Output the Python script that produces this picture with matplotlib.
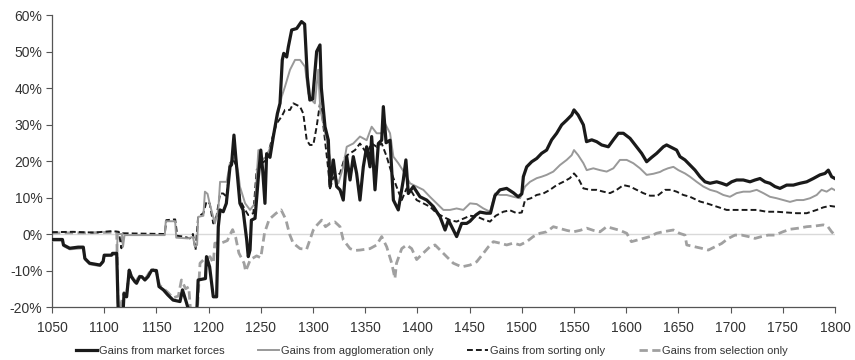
import numpy as np
from matplotlib import pyplot as plt
from matplotlib.ticker import FuncFormatter

plt.rcParams['font.family'] = ['Liberation Sans', 'DejaVu Sans']

# gains from market forces (black solid)
mf_years = [1050, 1060, 1061, 1067, 1075, 1080, 1081.5, 1086, 1096, 1099, 1100, 1107, 1108, 1112,
            1113.5, 1118, 1119, 1121.5, 1124, 1126, 1129.5, 1131, 1134, 1136, 1139, 1142, 1145.5,
            1150, 1152.5, 1156.7, 1161, 1166, 1172.6, 1175, 1179, 1182, 1188.6, 1190, 1197, 1198,
            1200, 1201, 1204.5, 1207.7, 1209.3, 1211, 1214, 1217, 1220.5, 1222, 1224.3, 1226, 1230,
            1233, 1236.5, 1238, 1239.7, 1241, 1244.5, 1247.7, 1250, 1251.8, 1254, 1255.6, 1258.8,
            1262, 1265.9, 1268.4, 1270.6, 1272, 1274.8, 1276.4, 1279.6, 1284.4, 1289, 1292, 1294.6,
            1297, 1299.7, 1303.5, 1306.7, 1308, 1311.5, 1314.7, 1316.3, 1319.5, 1322.7, 1325.9,
            1329, 1332.3, 1335.5, 1338.6, 1341.8, 1345, 1348.2, 1351.4, 1354.6, 1356.2, 1359.4,
            1362.6, 1365.8, 1367.4, 1370, 1373.8, 1377, 1381.7, 1386.5, 1389, 1391.3, 1396.1,
            1402.5, 1408.9, 1415.3, 1421.7, 1426.5, 1429.7, 1434.4, 1437.6, 1442.4, 1447.2, 1450.4,
            1456, 1460, 1466, 1470, 1474.3, 1479.1, 1485.5, 1491.9, 1496.5, 1500, 1501.5, 1504.7,
            1509.5, 1514.3, 1519, 1523.8, 1528.6, 1533.4, 1538.2, 1543, 1547.8, 1550, 1554, 1559,
            1562, 1567, 1571.7, 1576.5, 1582.9, 1587.7, 1592.5, 1597.3, 1603.7, 1610, 1614.8,
            1619.6, 1624.4, 1629.2, 1635.6, 1638.7, 1643.6, 1648.3, 1651.5, 1656.3, 1661.1, 1665.9,
            1670.7, 1675.5, 1680.3, 1686.7, 1691.4, 1696.2, 1701, 1705.8, 1712.2, 1718.6, 1723.4,
            1728.2, 1733, 1737.7, 1742.5, 1747.3, 1753.7, 1760.1, 1766.5, 1772.9, 1779.2, 1785.6,
            1790.4, 1793.6, 1796.8, 1800]
mf_vals = [-1.5, -1.5, -3, -3.9, -3.6, -3.6, -6.7, -8, -8.5, -7.5, -5.8, -5.8, -5.3, -5.3,
           -22, -22, -16.3, -17.2, -9.9, -11.7, -13.1, -13.5, -11.7, -11.7, -12.6, -11.7, -9.9,
           -10, -14.4, -15.3, -16.7, -18.1, -18.5, -15.3, -19, -22, -22, -12.6, -12.2, -6.2,
           -8, -9, -17.2, -17.2, 2, 6.6, 6.1, 8.4, 18.4, 19, 27.1, 21.2, 8.4,
           6.6, -1.6, -6.2, -4.4, 3.8, 4.3, 15.7, 23, 17.5, 8.4, 22, 21,
           26.7, 33, 35.8, 47.7, 49.5, 48.5, 51.3, 55.9, 56.3, 58.2, 57.5, 43,
           36.7, 37, 50, 51.8, 40, 29.4, 25.7, 13, 20.3, 13, 12.1,
           9.3, 21.2, 14.8, 21.2, 16.6, 9.3, 18.4, 23.9, 18.4, 26.7, 12.1,
           24.8, 25.7, 34.9, 25, 25.7, 9.3, 6.6, 14.8, 20.3, 11.1, 13,
           10.2, 9.3, 7.5, 4.7, 1.1, 3.8, 1.1, -0.7, 2.9, 2.9, 3.5,
           5.2, 6, 5.7, 5.7, 10.5, 12.1, 12.5, 11.3, 10.2, 11, 15.7, 18.4,
           19.8, 20.7, 22.1, 23, 25.8, 27.6, 29.9, 31.2, 32.6, 34, 32.6, 29.9,
           25.3, 25.8, 25.3, 24.4, 23.9, 25.8, 27.6, 27.6, 26.2, 23.9, 22.1,
           19.8, 21, 22.1, 23.9, 24.4, 23.7, 23, 21.2, 20.3, 18.9, 17.5,
           15.7, 14.3, 13.9, 14.3, 13.9, 13.4, 14.3, 14.8, 14.8, 14.3, 14.8,
           15.2, 14.3, 13.9, 13, 12.5, 13.4, 13.4, 13.9, 14.3, 15.2, 16.2,
           16.6, 17.5, 15.7, 15.2]

# gains from agglomeration only (grey solid)
ag_years = [1050, 1060, 1061, 1067, 1080, 1081.5, 1086, 1096, 1099, 1100, 1112, 1113, 1117, 1118,
            1119.5, 1158, 1159, 1168, 1169, 1180, 1185, 1187, 1189, 1190, 1195, 1196.5, 1199,
            1201, 1206, 1209.3, 1211, 1217.3, 1220.5, 1225.3, 1228.5, 1230, 1235, 1239.7, 1244.5,
            1247.7, 1250.9, 1255.6, 1260.4, 1265.2, 1270, 1273.2, 1278, 1282.8, 1287.6, 1292.4,
            1295.5, 1298.7, 1301.8, 1305, 1307, 1310, 1314.7, 1319.5, 1324.3, 1329, 1332.3,
            1338.6, 1345, 1351.4, 1356.2, 1361, 1365.8, 1369, 1373.8, 1377, 1381.7, 1388, 1392.9,
            1399.3, 1405.7, 1412, 1418.5, 1424.9, 1431.2, 1437.6, 1444, 1450.4, 1456.8, 1463.2,
            1469.6, 1474.3, 1479.1, 1485.5, 1491.9, 1498.3, 1503.1, 1507.9, 1514.3, 1519, 1523.8,
            1530.2, 1536.6, 1543, 1547.8, 1550, 1554, 1559, 1562.2, 1568.5, 1574.9, 1581.3,
            1587.7, 1594, 1600.5, 1606.8, 1613.2, 1619.6, 1626, 1632.4, 1635.6, 1640, 1645.2,
            1650, 1656.3, 1661.1, 1667.5, 1673.9, 1680.3, 1686.7, 1693, 1699.4, 1705.8, 1712.2,
            1718.6, 1725, 1731.4, 1737.7, 1744.1, 1750.5, 1756.9, 1763.3, 1769.7, 1776.1, 1782.5,
            1787.2, 1792, 1796.8, 1800]
ag_vals = [-1.8, -1.8, -3.3, -4.2, -3.9, -7, -8.3, -8.8, -7.8, -6.1, -5.6, 0, 0, -3.5,
           -0.3, -0.3, 3.5, 3.5, -1, -1.2, -0.8, -3.5, -3, 4.7, 5, 11.6, 11,
           8.4, 2.9, 6.6, 14.3, 14.3, 19.4, 21.2, 16.6, 13, 8.4, 6.6, 8.4,
           23, 20.3, 21.2, 24.8, 31.2, 37.6, 40.4, 45, 47.7, 47.7, 45.8,
           38.5, 36.7, 35.8, 45, 34, 30.3, 23, 16.6, 13.9, 18.4, 23.9,
           24.8, 26.7, 25.7, 29.4, 27.6, 27.6, 30.3, 27.6, 21.2, 19.4, 16.6, 13.9,
           13, 12.1, 10.2, 8.4, 6.6, 6.6, 7, 6.6, 8.4, 8.2, 7,
           6.1, 11.1, 10.7, 10.7, 10.2, 9.8, 13, 14.3, 15.3, 15.7, 16.2,
           17.1, 18.9, 20.3, 21.6, 23, 21.6, 19.4, 17.5, 18, 17.5, 17.1,
           18, 20.3, 20.3, 19.4, 18, 16.2, 16.5, 17, 17.5, 18, 18.4,
           17.5, 16.6, 15.7, 14.3, 13, 12.1, 11.6, 10.7, 10.2, 11.2, 11.6,
           11.6, 12.1, 11.2, 10.2, 9.8, 9.3, 8.8, 9.3, 9.3, 9.8, 10.7,
           12.1, 11.6, 12.5, 12]

# gains from sorting only (black dashed)
so_years = [1050, 1070, 1090, 1108, 1114, 1116.5, 1118, 1158, 1159.5, 1168, 1170, 1176, 1182, 1185,
            1187.5, 1190, 1195, 1198, 1201, 1204.5, 1207.7, 1211, 1214, 1217.3, 1220.5, 1223.7,
            1227, 1230.1, 1235, 1238, 1242.9, 1246, 1250.9, 1255.6, 1260.4, 1265.2, 1270, 1273.2,
            1278, 1281.2, 1287.6, 1290.7, 1294, 1297, 1300.3, 1303.5, 1306.7, 1309, 1311.5,
            1314.7, 1316.3, 1319.5, 1325.9, 1330.7, 1335.5, 1340.3, 1345, 1351.4, 1356.2, 1361,
            1365.8, 1370.6, 1375.4, 1380, 1385, 1389.7, 1394.5, 1399.3, 1405.7, 1412, 1418.5,
            1424.9, 1431.2, 1437.6, 1444, 1450.4, 1456.8, 1463.2, 1469.6, 1475, 1482.3, 1488.7,
            1495.1, 1500, 1503.1, 1508.7, 1514.3, 1520.6, 1527, 1533.4, 1539.8, 1546.1, 1550,
            1554, 1559, 1565.3, 1571.7, 1578.1, 1584.5, 1590.9, 1597.3, 1603.7, 1610, 1616.4,
            1622.8, 1630, 1637.2, 1643, 1648.3, 1654.7, 1661.1, 1670.7, 1677.1, 1686.7, 1696.2,
            1705.8, 1715.4, 1725, 1734.5, 1744.1, 1753.7, 1763.3, 1772.9, 1782.5, 1788.8, 1795,
            1800]
so_vals = [0.5, 0.6, 0.4, 0.8, 0.6, -3.9, 0.2, 0, 3.8, 4, -0.5, -0.7, -1.2, 0,
           -4.4, 4.7, 5.7, 8.9, 8.4, 2.9, 5, 11.1, 11.1, 10.2, 19.4, 20.3,
           18.5, 9.3, 6.6, 5.2, 5.7, 17.5, 19.4, 20.3, 25.7, 30.3, 32.2, 34,
           34, 35.8, 34.9, 33, 25.7, 24.4, 24.4, 29.4, 35.8, 32, 25.7,
           17.5, 12.5, 15.5, 16.6, 21.2, 22.1, 23, 24.8, 22.1, 24.8, 23.9,
           24.8, 21.2, 16.6, 13, 9.3, 12.5, 11.6, 9.3, 8.4, 7.5, 5.7,
           4.7, 3.8, 3.4, 4.2, 5, 4.8, 4, 3.4, 5, 6.1, 6.5,
           5.7, 5.9, 9.3, 9.8, 10.7, 11.1, 12.1, 13.4, 14.3, 15.3, 16.6,
           15.3, 12.5, 12.1, 12.1, 11.6, 11.2, 12.1, 13.4, 13, 12.1, 11.2,
           10.5, 10.5, 12.1, 12.1, 11.6, 10.7, 10.2, 8.9, 8.4, 7.5, 6.6,
           6.6, 6.6, 6.6, 6.1, 6.1, 5.9, 5.7, 5.7, 6.6, 7.3, 7.7,
           7.5]

# gains from selection only (grey dashed)
se_years = [1050, 1080, 1112, 1113.5, 1119, 1121.5, 1124, 1126, 1130, 1134, 1139, 1145.5, 1150,
            1153, 1157, 1161, 1166, 1171, 1174, 1178, 1181, 1183, 1189, 1191.8, 1195, 1201.4,
            1204.5, 1206, 1212, 1218, 1220, 1223, 1226, 1229, 1234, 1235.5, 1240, 1246, 1250,
            1253.6, 1258, 1264.7, 1269.5, 1274, 1277.5, 1281, 1287.6, 1293.9, 1300.3, 1304,
            1308.3, 1312, 1316.3, 1321, 1325.9, 1329, 1335.5, 1340, 1345, 1350, 1354.6, 1361,
            1365.8, 1370.6, 1375.4, 1378.5, 1380, 1385, 1389.7, 1394.5, 1399.3, 1405.7, 1412,
            1416.9, 1421.7, 1428, 1434.4, 1442.4, 1450.4, 1456.8, 1463.2, 1468, 1472.8, 1479.1,
            1485.5, 1491.9, 1498.3, 1504.7, 1511, 1517.4, 1523.8, 1530.2, 1536.6, 1543, 1549.4,
            1555.8, 1562.2, 1568.5, 1574.9, 1581.3, 1587.7, 1594, 1600.5, 1605, 1610, 1616.4,
            1622.8, 1629, 1635, 1645.2, 1651, 1656.3, 1658, 1665.9, 1672, 1678.7, 1685, 1691.4,
            1697.8, 1704.2, 1710.6, 1717, 1723.4, 1729.8, 1736, 1742.5, 1750, 1756.9, 1765,
            1772.9, 1781, 1788.8, 1793, 1796.8, 1800]
se_vals = [0.3, 0.3, 0.5, -22, -16, -17, -9.5, -11.5, -13, -11.5, -12.5, -9.5, -10.5,
           -14, -15, -16, -17.5, -17, -12.6, -15, -14.5, -22, -22, -8, -7.1, -6.2,
           -8, -2.5, -2.5, -1.8, -0.5, 1.2, -1, -5.2, -8, -10.2, -7, -6, -6.5,
           0.3, 4, 5.7, 6.6, 4, 0, -2.5, -4, -4.2, 1.1, 2.5,
           3.8, 2, 2.9, 3.3, 2, -1.6, -4, -4.5, -4.4, -4.2, -4, -3,
           -0.7, -3.5, -8, -12.2, -8, -4, -3, -4, -7, -5.2, -3.5,
           -3, -4.4, -6.2, -8, -9, -8.5, -7.6, -5.3, -3.5, -2.1, -2.5,
           -3, -2.5, -3, -2.1, -0.7, 0.2, 0.6, 2, 1.5, 1, 0.6,
           1, 1.6, 1, 0.6, 2, 1.5, 1, 0.2, -2.1, -1.7, -1.2,
           -0.7, 0.2, 0.6, 1.1, 0.2, -0.3, -3, -3.5, -3.9, -4.4, -3.5, -2.6,
           -1.2, -0.3, -0.3, -0.7, -1.2, -0.7, -0.3, -0.3, 0.6, 1.3, 1.6,
           2, 2.2, 2.5, 2.1, 0.6, -0.3]

x_ticks = list(range(1050, 1801, 50))
y_ticks = [-20, -10, 0, 10, 20, 30, 40, 50, 60]

fig = plt.figure(figsize=(8.55, 3.6), dpi=100)
ax = fig.add_axes([0.0608, 0.1472, 0.9158, 0.8111])

ax.axhline(0, color='#d9d9d9', lw=1.0, zorder=1)

ax.plot(mf_years, mf_vals, color='#1a1a1a', lw=2.3, label='Gains from market forces', zorder=5)
ax.plot(ag_years, ag_vals, color='#999999', lw=1.4, label='Gains from agglomeration only', zorder=4)
ax.plot(so_years, so_vals, color='#1a1a1a', lw=1.4, ls=(0, (3, 1.6)), label='Gains from sorting only', zorder=3)
ax.plot(se_years, se_vals, color='#a0a0a0', lw=2.0, ls=(0, (3, 1.6)), label='Gains from selection only', zorder=2)

ax.set_xlim(1050, 1800)
ax.set_ylim(-20, 60)
ax.set_xticks(x_ticks)
ax.set_yticks(y_ticks)
ax.yaxis.set_major_formatter(FuncFormatter(lambda v, p: '%d%%' % v))

for s in ['top', 'right']:
    ax.spines[s].set_visible(False)
for s in ['left', 'bottom']:
    ax.spines[s].set_color('#555555')
    ax.spines[s].set_linewidth(0.9)
ax.tick_params(axis='both', direction='out', length=4, width=0.8, color='#555555',
               labelsize=10, labelcolor='#333333')
ax.tick_params(axis='x', pad=6)
ax.tick_params(axis='y', pad=3)

fig.legend(loc='center', bbox_to_anchor=(0.505, 0.025), ncol=4, frameon=False, fontsize=8,
           handlelength=1.9, handletextpad=0.2, columnspacing=3.0, labelcolor='#333333')

fig.savefig('out.png', dpi=100)
